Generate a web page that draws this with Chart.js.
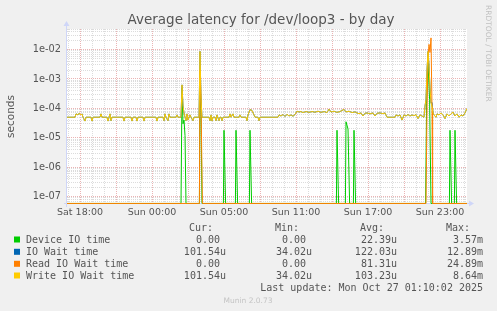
<!DOCTYPE html>
<html>
<head>
<meta charset="utf-8">
<title>Average latency for /dev/loop3 - by day</title>
<script src="https://cdn.jsdelivr.net/npm/chart.js@4/dist/chart.umd.min.js"></script>
<style>
  html, body { margin: 0; padding: 0; background: #f0f0f0; }
</style>
</head>
<body>
<canvas id="latencyChart" width="497" height="311"></canvas>
<script>
// time is minutes since Sat 18:00 (real time; clocks went back at 03:00 on Sunday)
const xTickMinutes = [0, 360, 720, 1080, 1440, 1800];
const xTickLabels = ['Sat 18:00', 'Sun 00:00', 'Sun 05:00', 'Sun 11:00', 'Sun 17:00', 'Sun 23:00'];
const yTickValues = [1e-7, 1e-6, 1e-5, 1e-4, 1e-3, 1e-2];
const yTickLabels = ['1e-07', '1e-06', '1e-05', '1e-04', '1e-03', '1e-02'];

const writeMinutes = [
  -65, -25, -20, -10, -5, 5, 10, 15, 25, 30,
  55, 60, 65, 100, 105, 110, 135, 140, 145, 150,
  155, 160, 215, 220, 225, 255, 260, 265, 280, 285,
  290, 315, 320, 325, 380, 385, 390, 415, 420, 425,
  430, 440, 445, 450, 480, 485, 490, 505, 510, 515,
  520, 525, 530, 535, 540, 550, 555, 565, 570, 595,
  600, 605, 610, 645, 650, 655, 660, 665, 675, 680,
  685, 695, 700, 705, 710, 715, 745, 750, 755, 765,
  770, 795, 800, 805, 830, 835, 840, 850, 860, 870,
  875, 890, 895, 900, 990, 995, 1005, 1015, 1025, 1035,
  1045, 1055, 1065, 1075, 1085, 1095, 1105, 1115, 1130, 1145,
  1160, 1175, 1190, 1205, 1220, 1235, 1245, 1255, 1270, 1285,
  1300, 1310, 1320, 1330, 1345, 1360, 1375, 1385, 1395, 1405,
  1415, 1425, 1435, 1450, 1465, 1475, 1485, 1500, 1515, 1525,
  1535, 1575, 1580, 1590, 1600, 1610, 1620, 1630, 1640, 1650,
  1660, 1670, 1680, 1690, 1700, 1710, 1720, 1725, 1730, 1735,
  1740, 1745, 1750, 1755, 1760, 1765, 1770, 1780, 1785, 1795,
  1805, 1815, 1825, 1835, 1845, 1855, 1865, 1875, 1885, 1895,
  1905, 1915, 1925, 1935
];
const writeVals = [
  5e-5, 5e-5, 6.5e-5, 6e-5, 6.8e-5, 6e-5, 6.5e-5, 5e-5, 3.7e-5, 5e-5,
  5e-5, 3.7e-5, 5e-5, 5e-5, 6.5e-5, 5e-5, 5e-5, 3.7e-5, 5e-5, 6.5e-5,
  3.8e-5, 5e-5, 5e-5, 3.7e-5, 5e-5, 5e-5, 3.7e-5, 5e-5, 5e-5, 3.7e-5,
  5e-5, 5e-5, 3.7e-5, 5e-5, 5e-5, 3.7e-5, 5e-5, 5e-5, 3.8e-5, 6.5e-5,
  5e-5, 3.8e-5, 6.5e-5, 5e-5, 5e-5, 6e-5, 5e-5, 5e-5, 6.3e-4, 1.2e-4,
  7e-5, 5e-5, 3.8e-5, 6.5e-5, 4e-5, 6e-5, 5e-5, 3.8e-5, 5e-5, 5e-5,
  8.64e-3, 2e-4, 5e-5, 5e-5, 3.8e-5, 6e-5, 3.7e-5, 5e-5, 5e-5, 3.8e-5,
  6e-5, 3.8e-5, 5e-5, 5e-5, 3.8e-5, 5e-5, 5e-5, 6.5e-5, 5e-5, 6.5e-5,
  5e-5, 5e-5, 6e-5, 5e-5, 5e-5, 3.8e-5, 6e-5, 9e-5, 8.5e-5, 6e-5,
  5e-5, 5e-5, 3.8e-5, 5e-5, 5e-5, 6e-5, 5.5e-5, 6.2e-5, 5.3e-5, 6.3e-5,
  5.5e-5, 6e-5, 5.4e-5, 6.2e-5, 8e-5, 7.5e-5, 7.8e-5, 7.2e-5, 7.8e-5, 7.3e-5,
  7.8e-5, 7.4e-5, 8e-5, 7.3e-5, 7.8e-5, 7.2e-5, 9.4e-5, 7.5e-5, 8e-5, 7.3e-5,
  7.8e-5, 8.5e-5, 9.2e-5, 7.6e-5, 8e-5, 7.2e-5, 7.6e-5, 7e-5, 6.6e-5, 7e-5,
  5.5e-5, 6.8e-5, 7e-5, 6.5e-5, 7e-5, 5.5e-5, 6.8e-5, 7e-5, 6.6e-5, 7e-5,
  5e-5, 5e-5, 6e-5, 5.5e-5, 6e-5, 4e-5, 6e-5, 5.5e-5, 6.2e-5, 5.5e-5,
  6e-5, 5.6e-5, 6.2e-5, 4.5e-5, 6e-5, 5.5e-5, 5e-5, 1.2e-4, 2e-4, 2e-3,
  8.6e-3, 3e-3, 5e-4, 1.5e-4, 1.2e-4, 7e-5, 6e-5, 5e-5, 6.5e-5, 6e-5,
  7e-5, 6e-5, 4.5e-5, 6.5e-5, 5.5e-5, 6.5e-5, 7.5e-5, 5.5e-5, 6.5e-5, 5e-5,
  6e-5, 5.5e-5, 7e-5, 1e-4
];

// IO wait follows write wait except just after the big read burst
const ioWaitDiffMinutes = [1760];
const ioWaitDiffVals = [1.6e-4];

const readMinutes = [-65, 597, 600, 605, 612, 1730, 1735, 1740, 1745, 1750, 1755, 1760, 1763, 1935];
const readVals = [0, 0, 2e-3, 2e-4, 0, 0, 1e-4, 5e-3, 1.5e-2, 8e-3, 2.49e-2, 1e-4, 0, 0];

const deviceMinutes = [
  -65, 505, 510, 515, 520, 525, 530, 597, 600, 605,
  610, 717, 720, 728, 777, 780, 788, 847, 850, 858,
  1282, 1285, 1293, 1327, 1330, 1340, 1348, 1367, 1370, 1378,
  1728, 1733, 1740, 1748, 1755, 1847, 1850, 1858, 1872, 1875,
  1883, 1935
];
const deviceVals = [
  0, 0, 5e-4, 3e-5, 4e-5, 1.2e-5, 0, 0, 1e-3, 1e-4,
  0, 0, 1.8e-5, 0, 0, 1.8e-5, 0, 0, 1.8e-5, 0,
  0, 1.8e-5, 0, 0, 3.5e-5, 2e-5, 0, 0, 1.8e-5, 0,
  0, 1.5e-4, 3.57e-3, 2e-4, 0, 0, 1.8e-5, 0, 0, 1.8e-5,
  0, 0
];

const legendNames = ['Device IO time', 'IO Wait time', 'Read IO Wait time', 'Write IO Wait time'];
const curText = ['0.00', '101.54u', '0.00', '101.54u'];
const minText = ['0.00', '34.02u', '0.00', '34.02u'];
const avgText = ['22.39u', '122.03u', '81.31u', '103.23u'];
const maxText = ['3.57m', '12.89m', '24.89m', '8.64m'];
const lastUpdate = 'Last update: Mon Oct 27 01:10:02 2025';

const seriesColors = ['#00cc00', '#0066b3', '#ff8000', '#ffcc00'];

const X_MIN = -65, X_MAX = 1935;
const Y_MIN = 5.6e-8, Y_MAX = 5e-2;
// rrdtool puts zero on the bottom pixel row of a log graph
const ZERO_LEVEL = 5.85e-8;

const ioWaitVals = writeMinutes.map((m, i) => {
  const k = ioWaitDiffMinutes.indexOf(m);
  return k >= 0 ? ioWaitDiffVals[k] : writeVals[i];
});

function toPoints(xs, ys) {
  return xs.map((x, i) => ({ x: x, y: ys[i] === 0 ? ZERO_LEVEL : ys[i] }));
}

const MAJOR = '#ebb4b4';
const MINOR = '#dcdcdc';
const AXIS = '#cfd6f8';
const FONT = '#555555';

const munin = {
  id: 'munin',
  beforeDraw(chart) {
    const { ctx, chartArea: a } = chart;
    ctx.save();
    ctx.fillStyle = '#f0f0f0';
    ctx.fillRect(0, 0, chart.width, chart.height);
    ctx.fillStyle = '#ffffff';
    ctx.fillRect(a.left, a.top, a.right - a.left, a.bottom - a.top);
    ctx.restore();
  },
  beforeDatasetsDraw(chart) {
    const { ctx, chartArea: a } = chart;
    const ax = a.left - 0.5, ay = a.bottom - 0.5;
    ctx.save();
    ctx.strokeStyle = AXIS;
    ctx.fillStyle = AXIS;
    ctx.lineWidth = 1;
    ctx.beginPath();
    ctx.moveTo(ax, a.bottom + 3);
    ctx.lineTo(ax, a.top - 4);
    ctx.moveTo(a.left - 3, ay);
    ctx.lineTo(a.right + 4, ay);
    ctx.stroke();
    ctx.beginPath();
    ctx.moveTo(ax - 3, a.top - 3);
    ctx.lineTo(ax + 3, a.top - 3);
    ctx.lineTo(ax, a.top - 8);
    ctx.closePath();
    ctx.fill();
    ctx.beginPath();
    ctx.moveTo(a.right + 2, ay - 3);
    ctx.lineTo(a.right + 2, ay + 3);
    ctx.lineTo(a.right + 7, ay);
    ctx.closePath();
    ctx.fill();
    ctx.restore();
  },
  afterDraw(chart) {
    const { ctx } = chart;
    ctx.save();
    ctx.fillStyle = FONT;
    ctx.textBaseline = 'alphabetic';
    ctx.font = '13.5px "DejaVu Sans"';
    ctx.textAlign = 'center';
    ctx.fillText('Average latency for /dev/loop3 - by day', 261, 23.5);

    ctx.font = '10px "DejaVu Sans Mono"';
    ctx.textAlign = 'right';
    const cols = [226, 312, 397, 483];
    ['Cur:', 'Min:', 'Avg:', 'Max:'].forEach((h, i) => ctx.fillText(h, cols[i] - 13, 231));
    const rows = [243, 255.3, 267.3, 279];
    const cell = s => /[0-9]$/.test(s) ? s + ' ' : s;
    legendNames.forEach((name, i) => {
      ctx.fillStyle = seriesColors[i];
      ctx.fillRect(14, rows[i] - 6.5, 6, 6);
      ctx.fillStyle = FONT;
      ctx.textAlign = 'left';
      ctx.fillText(name, 26, rows[i]);
      ctx.textAlign = 'right';
      [curText, minText, avgText, maxText].forEach((col, c) => ctx.fillText(cell(col[i]), cols[c], rows[i]));
    });
    ctx.fillText(lastUpdate, 483, 291.3);

    ctx.fillStyle = '#c4c4c4';
    ctx.font = '7.5px "DejaVu Sans"';
    ctx.textAlign = 'center';
    ctx.fillText('Munin 2.0.73', 248, 302.7);
    ctx.translate(488, 5);
    ctx.rotate(Math.PI / 2);
    ctx.textAlign = 'left';
    ctx.textBaseline = 'middle';
    ctx.fillStyle = '#c0c0c0';
    ctx.fillText('RRDTOOL / TOBI OETIKER', 0, 0);
    ctx.restore();
  }
};

new Chart(document.getElementById('latencyChart'), {
  type: 'line',
  data: {
    datasets: [
      { label: legendNames[0], data: toPoints(deviceMinutes, deviceVals), borderColor: seriesColors[0], order: 4 },
      { label: legendNames[1], data: toPoints(writeMinutes, ioWaitVals), borderColor: seriesColors[1], order: 3 },
      { label: legendNames[2], data: toPoints(readMinutes, readVals), borderColor: seriesColors[2], order: 2 },
      { label: legendNames[3], data: toPoints(writeMinutes, writeVals), borderColor: seriesColors[3], order: 1 }
    ]
  },
  options: {
    responsive: false,
    animation: false,
    events: [],
    layout: { padding: { left: 0, right: 30, top: 29, bottom: 87 } },
    elements: {
      point: { radius: 0 },
      line: { borderWidth: 1, tension: 0, fill: false, borderJoinStyle: 'round' }
    },
    plugins: { legend: { display: false }, tooltip: { enabled: false }, title: { display: false } },
    scales: {
      x: {
        type: 'linear',
        min: X_MIN,
        max: X_MAX,
        afterFit: s => { s.height = 20; },
        afterBuildTicks: s => {
          const t = [];
          for (let m = -60; m <= X_MAX; m += 60) t.push({ value: m });
          s.ticks = t;
        },
        grid: {
          drawTicks: false,
          color: c => (c.tick && c.tick.value % 180 === 0) ? MAJOR : MINOR
        },
        border: { display: false, dash: [1, 1] },
        ticks: {
          autoSkip: false,
          maxRotation: 0,
          padding: 3,
          color: FONT,
          font: { family: 'DejaVu Sans', size: 9.5 },
          callback: v => {
            const i = xTickMinutes.indexOf(v);
            return i >= 0 ? xTickLabels[i] : '';
          }
        }
      },
      y: {
        type: 'logarithmic',
        min: Y_MIN,
        max: Y_MAX,
        afterFit: s => { s.width = 67; },
        afterBuildTicks: s => {
          const t = [];
          [1e-8].concat(yTickValues).forEach(d => {
            for (let k = 1; k <= 9; k++) {
              const v = k === 1 ? d : k * d;
              if (v >= Y_MIN && v <= Y_MAX * 1.0001) t.push({ value: v, decade: k === 1 });
            }
          });
          s.ticks = t;
        },
        grid: {
          drawTicks: false,
          color: c => (c.tick && c.tick.decade) ? MAJOR : MINOR
        },
        border: { display: false, dash: [1, 1] },
        title: {
          display: true,
          text: 'seconds',
          color: FONT,
          font: { family: 'DejaVu Sans', size: 10.5 },
          padding: { top: 5, bottom: 0 }
        },
        ticks: {
          autoSkip: false,
          padding: 6,
          color: FONT,
          font: { family: 'DejaVu Sans', size: 9.8 },
          callback: (v, i, ticks) => {
            if (!ticks[i].decade) return '';
            const k = yTickValues.findIndex(d => Math.abs(d - v) / d < 1e-6);
            return k >= 0 ? yTickLabels[k] : '';
          }
        }
      }
    }
  },
  plugins: [munin]
});
</script>
</body>
</html>
